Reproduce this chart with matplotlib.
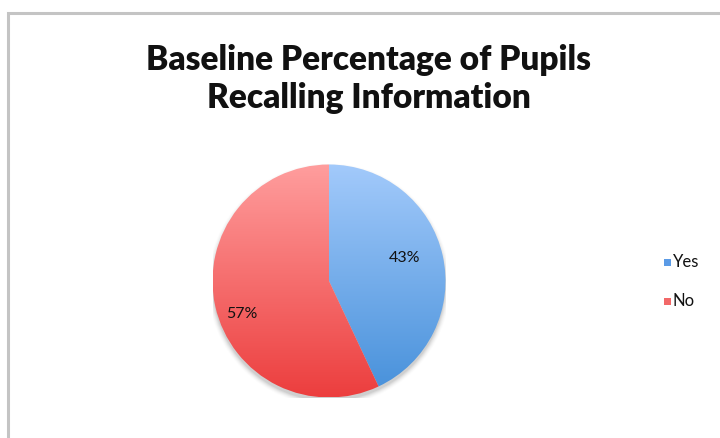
import numpy as np
import matplotlib
matplotlib.use("Agg")
import matplotlib.pyplot as plt
from matplotlib.colors import LinearSegmentedColormap
from matplotlib.patches import Rectangle, Circle

# Data
categories = ["Yes", "No"]
percentages = [43, 57]
title = "Baseline Percentage of Pupils\nRecalling Information"

# Gradient end colours per slice (top -> bottom)
grad_colors = [("#A3CAFB", "#4690DA"), ("#FF9E9E", "#EC3E3E")]
legend_colors = ["#5B9BE6", "#F26868"]

W, H = 720, 438
fig = plt.figure(figsize=(W / 100, H / 100), dpi=100)
fig.patch.set_facecolor("white")

# Chart frame (left and top edges visible)
fig.add_artist(Rectangle((7.5 / W, -0.05), 1.2, (H - 12.5) / H + 0.05,
                         transform=fig.transFigure, fill=False,
                         edgecolor="#C4C4C4", linewidth=2.2))

fig.text(369 / W, 1 - 79 / H, title, ha="center", va="center",
         fontsize=24, fontweight="heavy", family="Lato", color="#111111",
         linespacing=1.2)

# Pie axes
cx, cy, r = 329, 281, 116.5
ax = fig.add_axes([(cx - r) / W, 1 - (cy + r) / H, 2 * r / W, 2 * r / H])
ax.set_xlim(-1, 1)
ax.set_ylim(-1, 1)
ax.set_aspect("equal")
ax.axis("off")

# soft shadow under the pie
for i, a in enumerate(np.linspace(0.05, 0.012, 6)):
    ax.add_patch(Circle((0, -0.03), 1.0 + 0.008 * i, color="black",
                        alpha=a, lw=0, zorder=0))

wedges, texts, autotexts = ax.pie(
    percentages, startangle=90, counterclock=False, radius=1,
    colors=[c[1] for c in grad_colors], autopct="%d%%",
    pctdistance=0.7, textprops=dict(fontsize=11.5, family="Lato",
                                    color="#111111"))

grad = np.linspace(0, 1, 256).reshape(-1, 1)
for w, (top, bot) in zip(wedges, grad_colors):
    cmap = LinearSegmentedColormap.from_list("g", [top, bot])
    w.set_facecolor("none")
    w.set_edgecolor("none")
    im = ax.imshow(grad, cmap=cmap, extent=[-1, 1, -1, 1], origin="upper",
                   aspect="auto", zorder=1, interpolation="bilinear")
    im.set_clip_path(w)

ax.set_xlim(-1, 1)
ax.set_ylim(-1, 1)

# label placement
label_dist = [0.68, 0.80]
label_shift = [4.5, 8.0]
ang = 90.0
for t, p, d, s in zip(autotexts, percentages, label_dist, label_shift):
    mid = ang - p * 3.6 / 2
    ang -= p * 3.6
    a = np.deg2rad(mid + s)
    t.set_position((d * np.cos(a), d * np.sin(a)))
    t.set_zorder(3)

# Legend
for i, (name, col) in enumerate(zip(categories, legend_colors)):
    y = 1 - (262 + 39 * i) / H
    fig.add_artist(Rectangle((664 / W, y - 3.5 / H), 7 / W, 7 / H,
                             transform=fig.transFigure, color=col, lw=0))
    fig.text(673 / W, y, name, ha="left", va="center", fontsize=12,
             family="Lato", color="#111111")

fig.savefig("out.png", dpi=100, facecolor="white")
